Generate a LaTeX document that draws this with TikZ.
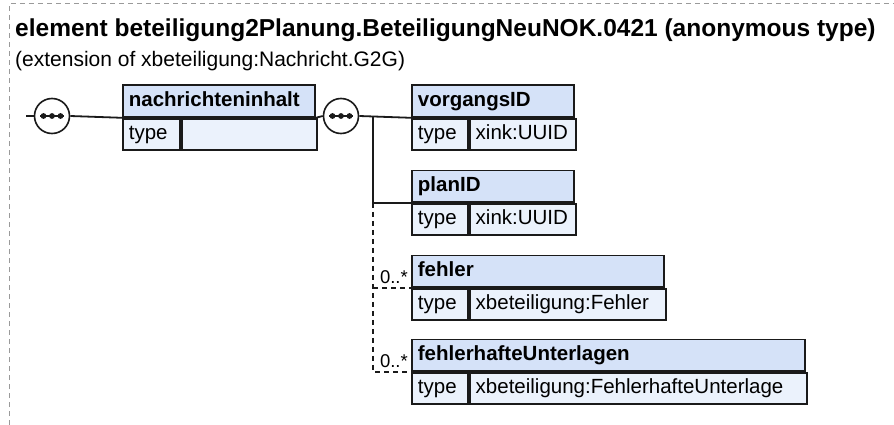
\documentclass[tikz,border=0pt]{standalone}
\usepackage{fontspec}
\setmainfont{Liberation Sans}
\usetikzlibrary{calc}
\definecolor{hdrfill}{HTML}{D5E2F8}
\definecolor{cellfill}{HTML}{EBF2FC}
\definecolor{linec}{HTML}{1A1A1A}
\definecolor{borderc}{HTML}{9A9A9A}
\newcommand{\boxfont}{\fontsize{20.5}{24}\selectfont}
\begin{document}
\begin{tikzpicture}[x=1pt,y=-1pt,
  hdr/.style={draw=linec, fill=hdrfill, line width=1.8pt, anchor=north west,
    minimum height=31.5pt, inner xsep=6pt, inner ysep=0pt, text height=15pt,
    text depth=4pt, font=\boxfont\bfseries, align=left},
  cell/.style={hdr, fill=cellfill, font=\boxfont},
  conn/.style={draw=linec, line width=1.8pt},
  optconn/.style={conn, dash pattern=on 5pt off 4pt},
  seq/.style={circle, draw=linec, fill=white, line width=1.6pt, minimum size=35pt, inner sep=0pt,
    path picture={
      \draw[linec, line width=1.4pt] ([xshift=-12pt]path picture bounding box.center) -- ([xshift=12pt]path picture bounding box.center);
      \foreach \dx in {-8.5,0,8.5} \fill[linec] ([xshift=\dx pt]path picture bounding box.center) circle (2.9pt);
    }},
  mult/.style={font=\fontsize{18.5}{20}\selectfont, inner sep=0pt, anchor=base east},
  border/.style={draw=borderc, line width=1pt, dash pattern=on 5pt off 4pt}
]
\useasboundingbox (0,0) rectangle (894,425);
\draw[border] (9,425) -- (9,4) -- (894,4);

\node[anchor=base west, inner sep=0pt, font=\fontsize{24.5}{29}\selectfont\bfseries] (title) at (15,37)
  {element beteiligung2Planung.BeteiligungNeuNOK.0421 (anonymous type)};
\node[anchor=base west, inner sep=0pt, font=\fontsize{21}{25}\selectfont] (subtitle) at (15,67)
  {(extension of xbeteiligung:Nachricht.G2G)};

% nachrichteninhalt
\node[hdr, text width=180pt] (nh) at (122,84.5) {nachrichteninhalt};
\node[cell, text width=45pt] (nt) at (nh.south west) {type};
\node[cell, text width=123pt] (nv) at (nt.north east) {};

% vorgangsID
\node[hdr, text width=150pt] (vh) at (411,84.5) {vorgangsID};
\node[cell, text width=44pt] (vt) at (vh.south west) {type};
\node[cell, text width=94pt] (vv) at (vt.north east) {xink:UUID};

% planID
\node[hdr, text width=150pt] (ph) at (411,169.5) {planID};
\node[cell, text width=44pt] (pt) at (ph.south west) {type};
\node[cell, text width=94pt] (pv) at (pt.north east) {xink:UUID};

% fehler
\node[hdr, text width=240pt] (fh) at (411,254.5) {fehler};
\node[cell, text width=44pt] (ft) at (fh.south west) {type};
\node[cell, text width=184pt] (fv) at (ft.north east) {xbeteiligung:Fehler};

% fehlerhafteUnterlagen
\node[hdr, text width=381pt] (uh) at (411,338.5) {fehlerhafteUnterlagen};
\node[cell, text width=44pt] (ut) at (uh.south west) {type};
\node[cell, text width=325pt] (uv) at (ut.north east) {xbeteiligung:FehlerhafteUnterlage};

% sequence symbols
\coordinate (start) at (26,116);
\node[seq] (c1) at (52,116) {};
\node[seq] (c2) at (341,116) {};
\coordinate (j1) at (373,116);

\draw[conn] (start) -- (c1.west);
\draw[conn] (c1.east) -- (nh.south west);
\draw[conn] (nh.south east) -- (c2.west);
\draw[conn] (c2.east) -- (vh.south west);
\draw[conn] (j1) -- (j1 |- ph.south west) -- (ph.south west);
\draw[optconn] (j1 |- ph.south west) -- (j1 |- uh.south west) -- (uh.south west);
\draw[optconn] (j1 |- fh.south west) -- (fh.south west);

\node[mult] (m1) at ([xshift=-3pt,yshift=4pt]fh.south west) {0..*};
\node[mult] (m2) at ([xshift=-3pt,yshift=4pt]uh.south west) {0..*};
\end{tikzpicture}
\end{document}
